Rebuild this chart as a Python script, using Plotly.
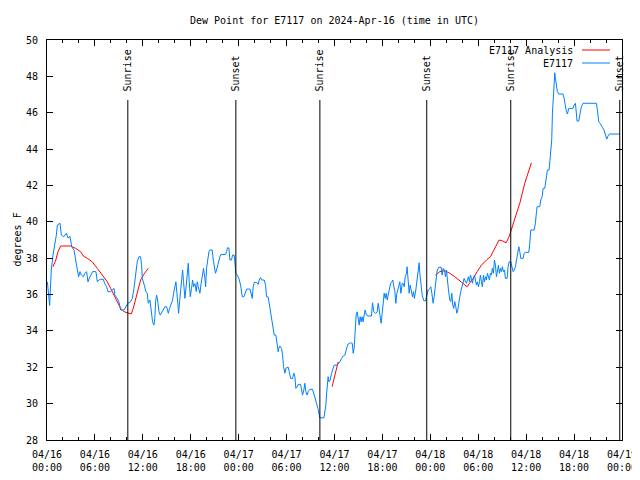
import pandas as pd
import plotly.graph_objects as go

BASE = pd.Timestamp("2024-04-16 00:00")

# Observed dew point (hours since 2024-04-16 00:00 UTC, degrees F)
obs_hours = [0.05,0.33,0.54,0.75,1.17,1.3,1.63,1.8,2.1,2.42,2.63,2.88,3.09,3.38,3.59,3.8,3.96,4.13,4.3,4.55,4.72,4.96,5.13,5.3,5.46,5.71,6.13,6.3,6.5,6.71,7.05,7.21,7.46,7.63,7.96,8.17,8.39,8.5,8.8,9.0,9.22,9.64,9.85,10.14,10.47,10.68,10.89,11.1,11.3,11.51,11.72,11.85,11.93,12.18,12.39,12.55,12.68,12.89,13.02,13.1,13.22,13.39,13.5,13.6,13.72,13.85,14.02,14.18,14.35,14.5,14.77,14.98,15.19,15.35,15.52,15.73,15.85,16.02,16.14,16.27,16.35,16.48,16.6,16.73,16.86,16.98,17.1,17.27,17.44,17.56,17.69,17.81,17.94,18.1,18.23,18.36,18.52,18.69,18.81,18.94,19.15,19.27,19.44,19.6,19.77,19.86,19.98,20.11,20.28,20.4,20.69,20.82,20.94,21.1,21.23,21.44,21.65,21.77,22.36,22.49,22.61,22.78,22.9,23.1,23.24,23.44,23.53,23.65,23.82,24.03,24.24,24.36,24.45,24.66,24.87,25.0,25.42,25.53,25.7,25.82,25.95,26.24,26.45,26.57,26.74,26.87,27.2,27.37,27.49,27.7,27.82,27.95,28.08,28.2,28.33,28.45,28.66,28.75,28.95,29.03,29.16,29.37,29.5,29.62,29.79,29.92,30.2,30.33,30.5,30.75,30.91,31.04,31.16,31.33,31.45,31.75,31.87,32.0,32.16,32.29,32.41,32.58,32.7,32.92,33.25,33.42,33.58,33.75,33.92,34.04,34.17,34.67,34.79,34.92,35.0,35.09,35.2,35.3,35.46,35.63,35.83,35.96,36.33,36.5,36.67,36.88,37.09,37.3,37.42,37.58,37.71,38.0,38.23,38.34,38.46,38.59,38.71,38.84,38.96,39.09,39.21,39.34,39.46,39.59,39.71,39.84,40.0,40.21,40.63,40.76,40.93,41.14,41.35,41.47,41.6,41.76,41.84,41.97,42.1,42.22,42.35,42.47,42.6,42.77,42.85,43.02,43.19,43.3,43.44,43.56,43.68,43.81,44.02,44.18,44.31,44.48,44.6,44.73,44.85,45.02,45.09,45.22,45.35,45.47,45.6,45.77,45.89,46.0,46.18,46.31,46.43,46.5,46.6,46.68,46.8,46.98,47.18,47.39,47.52,47.73,47.94,48.06,48.19,48.35,48.48,48.65,48.86,49.06,49.35,49.48,49.6,49.77,49.9,50.02,50.15,50.27,50.44,50.56,50.69,50.81,50.94,51.06,51.19,51.31,51.44,51.56,51.69,51.81,51.98,52.1,52.23,52.4,52.52,52.65,52.77,52.9,53.02,53.15,53.27,53.4,53.52,53.65,53.77,53.9,54.02,54.15,54.27,54.4,54.52,54.65,54.77,54.9,55.02,55.15,55.27,55.4,55.52,55.65,55.77,55.9,56.03,56.15,56.28,56.4,56.53,56.65,56.78,56.9,57.03,57.15,57.28,57.4,57.61,57.74,57.86,58.07,58.24,58.37,58.5,58.66,58.79,58.91,59.08,59.2,59.33,59.62,59.75,59.91,60.33,60.45,60.58,61.0,61.16,61.29,61.37,61.7,61.83,62.0,62.12,62.33,62.45,62.54,62.66,62.87,62.99,63.12,63.2,63.29,63.41,63.5,63.58,63.66,63.79,63.91,64.08,64.62,64.75,64.92,65.04,65.17,65.25,65.33,65.87,66.0,66.17,66.25,66.37,66.58,66.75,66.91,67.12,68.79,68.91,69.08,69.25,69.41,69.58,69.75,69.92,70.09,70.25,70.42,71.7]
obs_values = [36.7,35.4,37.35,38.17,39.27,39.82,39.92,39.27,39.18,39.37,39.1,39.2,38.63,38.45,37.9,37.26,36.98,37.26,37.07,36.98,37.15,37.26,36.7,36.9,37.07,37.26,37.26,36.7,36.8,36.84,36.84,36.62,36.43,36.16,36.16,36.26,36.34,35.97,35.79,35.6,35.15,35.15,35.33,35.52,35.6,35.79,36.34,36.98,37.8,38.08,38.08,37.6,36.89,36.52,36.16,36.07,35.52,35.7,35.33,34.87,34.5,34.32,34.7,35.6,35.97,35.7,35.05,34.87,35.0,35.15,35.33,35.33,34.97,35.24,35.42,35.7,36.07,36.43,36.7,36.07,35.42,34.97,35.6,36.34,37.07,37.35,36.7,35.79,36.52,37.17,37.72,36.7,35.88,36.34,36.8,36.43,36.6,36.16,36.7,36.43,36.07,36.52,37.17,37.44,36.89,36.43,37.44,37.99,38.36,38.45,38.45,37.9,37.53,37.17,37.35,37.8,38.08,38.2,38.2,38.36,38.58,38.55,37.9,37.9,38.17,38.17,37.53,37.17,37.07,36.89,36.52,36.16,35.88,35.88,36.16,36.3,36.3,36.01,35.79,36.43,36.67,36.67,36.56,36.8,36.93,36.8,36.8,36.52,35.88,35.86,35.52,35.06,34.6,34.23,33.87,33.77,33.77,33.4,32.85,33.04,33.17,33.04,32.67,32.03,31.67,31.95,32.01,31.76,31.39,31.39,31.67,31.49,30.84,30.93,31.06,31.06,30.75,30.47,30.75,31.12,30.66,30.47,30.66,30.79,30.79,30.57,30.29,30.02,29.74,29.47,29.22,29.22,29.47,29.92,30.47,31.12,31.48,31.2,31.3,31.67,31.94,32.12,32.12,32.21,32.3,32.49,32.62,32.67,32.95,33.13,33.28,33.35,33.31,32.77,33.04,33.96,34.87,35.05,34.6,34.32,34.78,34.5,34.78,34.5,34.87,35.15,34.87,34.82,34.82,35.55,35.05,34.96,35.05,35.52,35.15,34.78,34.42,34.96,35.6,36.07,35.79,36.07,35.7,36.07,36.43,36.61,36.7,36.8,36.43,36.16,35.52,36.07,36.43,36.7,36.07,36.61,36.61,36.43,36.98,37.17,37.53,36.52,36.07,36.52,36.16,35.88,36.16,35.79,36.25,36.7,37.35,37.62,37.75,37.17,36.62,35.97,35.66,35.66,35.88,36.25,36.34,36.43,36.07,35.52,35.88,36.62,37.35,37.5,37.5,37.07,37.44,37.35,36.98,37.35,36.62,36.25,35.7,35.61,36.07,35.42,35.24,35.61,35.33,34.97,35.15,35.61,35.88,36.16,36.43,36.7,36.89,36.7,36.62,36.8,36.98,36.7,37.07,36.89,36.62,36.89,37.07,36.8,36.52,36.7,36.43,36.7,37.07,36.7,36.43,37.07,36.7,36.98,36.8,37.17,36.89,36.8,37.17,37.07,37.44,37.17,37.9,37.62,36.98,37.44,37.62,37.17,37.44,37.26,37.53,37.26,37.35,36.89,36.89,37.53,37.8,37.8,37.53,37.26,37.35,37.53,37.9,38.17,38.63,38.36,37.99,37.99,38.27,38.32,38.32,38.82,39.55,39.55,39.92,40.56,40.83,40.83,41.2,41.38,41.84,41.84,42.21,42.57,42.85,42.85,43.49,43.95,44.5,45.97,47.07,47.8,48.2,47.9,47.62,47.16,47.03,47.03,46.79,46.24,46.06,45.93,46.15,46.24,46.24,46.42,46.52,45.97,45.54,45.54,45.87,46.33,46.52,46.52,46.19,45.51,45.42,45.33,45.18,45.05,44.78,44.55,44.72,44.83,44.83]

# Analysis dew point (None separates the three runs)
ana_hours = [0.75,1.1,1.38,1.71,2.96,3.59,4.21,4.55,5.05,5.67,6.3,6.92,7.55,7.97,8.39,8.8,9.22,9.64,10.05,10.55,10.8,11.1,11.39,11.72,11.85,12.1,12.68,None,
             35.7,36.04,36.46,None,
             48.65,49.19,49.81,50.44,51.06,51.6,52.1,52.6,52.9,53.36,53.86,54.4,55.03,55.53,55.86,56.28,56.61,57.03,57.5,57.86,58.15,58.48,58.79,59.2,59.82,60.33,60.66]
ana_values = [37.53,37.9,38.36,38.67,38.67,38.54,38.36,38.12,37.99,37.8,37.44,37.07,36.7,36.34,35.97,35.6,35.24,35.06,35.0,34.93,35.24,35.79,36.34,36.8,36.89,37.1,37.44,None,
              30.93,31.57,32.3,None,
              37.07,37.26,37.31,37.17,36.98,36.8,36.62,36.43,36.62,36.89,37.26,37.62,37.9,38.08,38.36,38.72,39.0,38.95,38.85,39.18,39.55,40.0,40.47,41.02,42.12,42.85,43.25]

# Sun events (hours since start)
sun_hours = [10.12, 23.65, 34.17, 47.55, 58.07, 71.72]
sun_labels = ["Sunrise", "Sunset", "Sunrise", "Sunset", "Sunrise", "Sunset"]

title_text = "Dew Point for E7117 on 2024-Apr-16 (time in UTC)"
y_title = "degrees F"
series_names = ["E7117 Analysis", "E7117"]
series_colors = ["#ff0000", "#0080ff"]

def to_time(hs):
    return [None if h is None else BASE + pd.Timedelta(hours=h) for h in hs]

FONT = "DejaVu Sans Mono"
W, H = 632, 472   # page adds an 8px body margin
ML, MR, MT, MB = 39, 18, 32, 40
PW = W - ML - MR

fig = go.Figure()
fig.add_trace(go.Scatter(x=to_time(ana_hours), y=ana_values, mode="lines",
                         line=dict(color=series_colors[0], width=1), name=series_names[0],
                         connectgaps=False, showlegend=False))
fig.add_trace(go.Scatter(x=to_time(obs_hours), y=obs_values, mode="lines",
                         line=dict(color=series_colors[1], width=1, shape="linear"), name=series_names[1],
                         showlegend=False))

shapes = []
annotations = []
for h, lab in zip(sun_hours, sun_labels):
    t = BASE + pd.Timedelta(hours=h)
    shapes.append(dict(type="line", xref="x", yref="y", x0=t, x1=t, y0=28, y1=46.7,
                       line=dict(color="black", width=1)))
    annotations.append(dict(x=t, y=47.05, xref="x", yref="y", text=lab, textangle=-90,
                            showarrow=False, xanchor="center", yanchor="bottom",
                            font=dict(family=FONT, size=10, color="black")))

# custom gnuplot-style key (text then line sample); offsets in plot pixels
for i, (nm, col) in enumerate(zip(series_names, series_colors)):
    ypx = 10 + 13 * i
    yp = 1 - ypx / 400
    annotations.append(dict(x=528 / PW, y=yp, xref="paper", yref="paper", text=nm,
                            showarrow=False, xanchor="right", yanchor="middle",
                            font=dict(family=FONT, size=10, color="black")))
    shapes.append(dict(type="line", xref="paper", yref="paper", x0=535 / PW,
                       x1=563 / PW, y0=yp, y1=yp, line=dict(color=col, width=1)))

annotations.append(dict(x=-(ML - 1) / PW, y=0.5, xref="paper", yref="paper", text=y_title,
                        textangle=-90, showarrow=False, xanchor="left", yanchor="middle",
                        font=dict(family=FONT, size=10, color="black")))

fig.update_layout(
    width=W, height=H,
    margin=dict(l=ML, r=MR, t=MT, b=MB, autoexpand=False),
    paper_bgcolor="white", plot_bgcolor="white",
    title=dict(text=title_text, x=(ML + PW / 2) / W, xanchor="center", y=1 - 12 / H, yanchor="middle",
               font=dict(family=FONT, size=10, color="black")),
    font=dict(family=FONT, size=10, color="black"),
    shapes=shapes, annotations=annotations,
    showlegend=False,
)
fig.update_xaxes(type="date", range=[BASE, BASE + pd.Timedelta(hours=72)], automargin=False,
                 dtick=6 * 3600 * 1000, tick0=BASE, tickformat="%m/%d<br>%H:%M",
                 showgrid=False, zeroline=False, showline=True, linecolor="black", linewidth=1,
                 mirror="ticks", ticks="inside", ticklen=6, tickcolor="black", ticklabelstandoff=5,
                 minor=dict(dtick=2 * 3600 * 1000, ticks="inside", ticklen=3, tickcolor="black", showgrid=False),
                 tickfont=dict(family=FONT, size=10, color="black"))
fig.update_yaxes(range=[28, 50], dtick=2, tick0=28, automargin=False,
                 showgrid=False, zeroline=False, showline=True, linecolor="black", linewidth=1,
                 mirror="ticks", ticks="inside", ticklen=6, tickcolor="black", ticklabelstandoff=6,
                 tickfont=dict(family=FONT, size=10, color="black"))

fig.write_html("out.html")
